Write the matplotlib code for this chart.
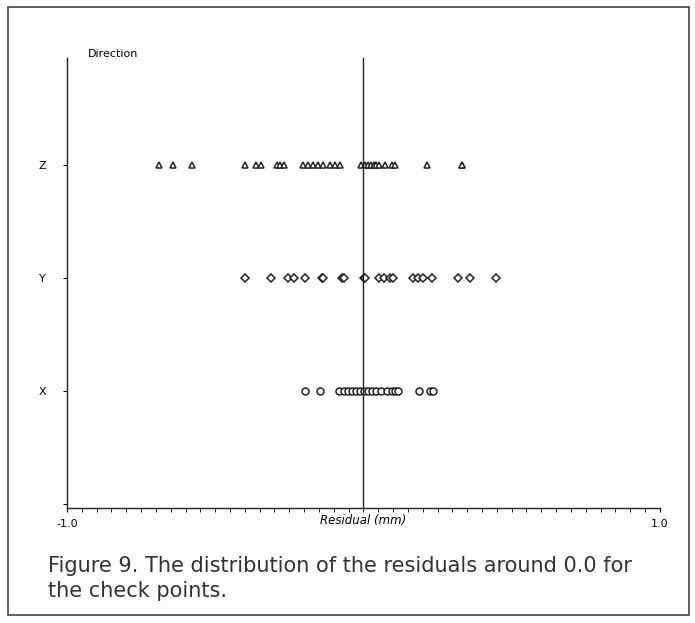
import matplotlib
matplotlib.use("Agg")
import matplotlib.pyplot as plt
from matplotlib.patches import Rectangle
import numpy as np

# residuals (mm), per direction
z_res = [-0.689, -0.642, -0.578, -0.400, -0.361, -0.345, -0.291, -0.280, -0.267,
         -0.204, -0.188, -0.171, -0.154, -0.137, -0.113, -0.095, -0.078,
         -0.007, 0.007, 0.017, 0.027, 0.037, 0.042, 0.054, 0.074, 0.095, 0.108,
         0.216, 0.331, 0.334]
y_res = [-0.399, -0.311, -0.255, -0.235, -0.196, -0.140, -0.135, -0.071, -0.066,
         0.003, 0.007, 0.054, 0.068, 0.091, 0.100, 0.167, 0.184, 0.201, 0.230,
         0.319, 0.361, 0.446]
x_res = [-0.196, -0.145, -0.081, -0.064, -0.051, -0.037, -0.024, -0.010, 0.003,
         0.017, 0.030, 0.044, 0.061, 0.081, 0.095, 0.105, 0.115, 0.189, 0.223, 0.236]

directions = ["X", "Y", "Z"]
caption = ("Figure 9. The distribution of the residuals around 0.0 for\n"
           "the check points.")

fig = plt.figure(figsize=(6.95, 6.23), dpi=100)
ax = fig.add_axes([0.0964, 0.1846, 0.853, 0.7225])

series = [(x_res, "o"), (y_res, "D"), (z_res, "^")]
for i, (vals, mk) in enumerate(series):
    ms = 5 if mk != "D" else 4
    ax.plot(vals, np.full(len(vals), i + 1), linestyle="none", marker=mk,
            markersize=ms, markerfacecolor="white", markeredgecolor="#222222",
            markeredgewidth=1.1)

ax.axvline(0, color="#222222", lw=1.0)
ax.set_xlim(-1.0, 1.0)
ax.set_ylim(-0.035, 3.947)

ax.spines["top"].set_visible(False)
ax.spines["right"].set_visible(False)
for s in ["left", "bottom"]:
    ax.spines[s].set_linewidth(1.0)
    ax.spines[s].set_color("#222222")

ax.set_xticks([-1.0, 1.0])
ax.set_xticklabels(["-1.0", "1.0"], fontsize=8)
ax.set_xticks(np.arange(-1.0, 1.001, 0.05), minor=True)
ax.tick_params(axis="x", which="both", direction="out", length=3, pad=5)
ax.set_yticks([0, 1, 2, 3])
ax.set_yticklabels(["", "X", "Y", "Z"], fontsize=8)
ax.tick_params(axis="y", direction="out", length=3, pad=12)
ax.set_xlabel("Residual (mm)", fontsize=8.5, style="italic", labelpad=-11)

fig.text(0.127, 0.905, "Direction", fontsize=8, ha="left", va="bottom")

fig.text(0.069, 0.035, caption, fontsize=15, color="#333333",
         ha="left", va="bottom", linespacing=1.3)

fig.patches.append(Rectangle((0.012, 0.013), 0.98, 0.975, transform=fig.transFigure,
                             fill=False, edgecolor="#444444", lw=1.2))

fig.savefig("out.png", dpi=100)
